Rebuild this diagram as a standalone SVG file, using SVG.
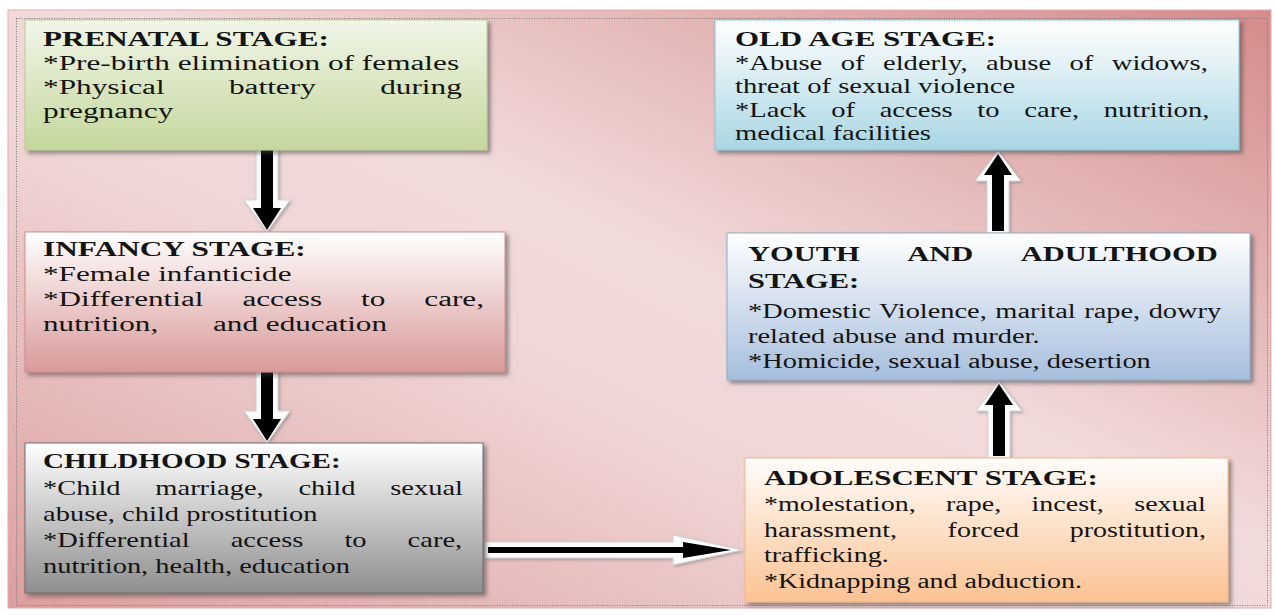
<svg xmlns="http://www.w3.org/2000/svg" width="1275" height="615" viewBox="0 0 1275 615">
<defs>
<linearGradient id="bg" x1="1" y1="0" x2="0" y2="1">
<stop offset="0" stop-color="#d48b8b"/>
<stop offset="0.45" stop-color="#f2dbdb"/>
<stop offset="0.6" stop-color="#f0d5d5"/>
<stop offset="1" stop-color="#dc9e9e"/>
</linearGradient>
<linearGradient id="gPre" x1="0" y1="0" x2="0" y2="1"><stop offset="0" stop-color="#f1f6e9"/><stop offset="1" stop-color="#c4d79c"/></linearGradient>
<linearGradient id="gInf" x1="0" y1="0" x2="0" y2="1"><stop offset="0" stop-color="#ffffff"/><stop offset="1" stop-color="#d99a99"/></linearGradient>
<linearGradient id="gChi" x1="0" y1="0" x2="0" y2="1"><stop offset="0" stop-color="#ffffff"/><stop offset="1" stop-color="#8e8e8e"/></linearGradient>
<linearGradient id="gAdo" x1="0" y1="0" x2="0" y2="1"><stop offset="0" stop-color="#fffdfb"/><stop offset="1" stop-color="#fbc293"/></linearGradient>
<linearGradient id="gYou" x1="0" y1="0" x2="0" y2="1"><stop offset="0" stop-color="#ffffff"/><stop offset="1" stop-color="#a6bedd"/></linearGradient>
<linearGradient id="gOld" x1="0" y1="0" x2="0" y2="1"><stop offset="0" stop-color="#ffffff"/><stop offset="1" stop-color="#a8d6e3"/></linearGradient>
<filter id="sh" x="-5%" y="-5%" width="115%" height="120%"><feDropShadow dx="3" dy="3" stdDeviation="2" flood-color="#404040" flood-opacity="0.55"/></filter>
<filter id="ash" x="-30%" y="-30%" width="160%" height="160%"><feDropShadow dx="1.5" dy="1.5" stdDeviation="1.5" flood-color="#808080" flood-opacity="0.6"/></filter>
</defs>
<style>
.t{font-family:"Liberation Serif","Times New Roman",serif;font-size:20px;fill:#141414}
.b{font-weight:bold}
.box{filter:url(#sh);stroke-width:1}
.wa{fill:#fbfbfb;stroke:#d4d4d4;stroke-width:1;filter:url(#ash)}
.ba{fill:#000}
</style>
<rect x="8" y="10" width="1263" height="598" fill="url(#bg)" stroke="#e3abab" stroke-width="1"/>
<rect x="16.5" y="18.5" width="1251" height="587" fill="none" stroke="#7a7a7a" stroke-width="1" stroke-dasharray="1 1.5"/>

<g id="connectors">
<polygon class="wa" points="256,150 278,150 278,200 290,200 267,232 244,200 256,200"/>
<polygon class="ba" points="261,150 273,150 273,208 281,208 267,230 253,208 261,208"/>
<polygon class="wa" points="256,372 278,372 278,411 290,411 267,443 244,411 256,411"/>
<polygon class="ba" points="261,372 273,372 273,419 281,419 267,441 253,419 261,419"/>
<polygon class="wa" points="485,542 673,542 673,535 742,550 673,565 673,558 485,558"/>
<polygon class="ba" points="488,547 683,547 683,542 731,550 683,558 683,553 488,553"/>
<polygon class="wa" points="988,458 1010,458 1010,411 1022,411 999,381 976,411 988,411"/>
<polygon class="ba" points="993,456 1005,456 1005,405 1013,405 999,384 985,405 993,405"/>
<polygon class="wa" points="987,233 1009,233 1009,181 1021,181 998,151 975,181 987,181"/>
<polygon class="ba" points="992,231 1004,231 1004,175 1012,175 998,154 984,175 992,175"/>
</g>

<g id="prenatal">
<rect class="box" x="25" y="20" width="462" height="130" fill="url(#gPre)" stroke="#b9cc98"/>
<text class="t b" transform="translate(43 46) scale(1.555 1)">PRENATAL STAGE:</text>
<text class="t" transform="translate(43 70) scale(1.565 1)">*Pre-birth elimination of females</text>
<text class="t" transform="translate(43 94) scale(1.565 1)" word-spacing="36.1">*Physical battery during</text>
<text class="t" transform="translate(43 118) scale(1.565 1)">pregnancy</text>
</g>

<g id="infancy">
<rect class="box" x="25" y="232" width="480" height="140" fill="url(#gInf)" stroke="#d08c8b"/>
<text class="t b" transform="translate(43 256) scale(1.565 1)">INFANCY STAGE:</text>
<text class="t" transform="translate(43 281) scale(1.56 1)">*Female infanticide</text>
<text class="t" transform="translate(43 306) scale(1.56 1)" word-spacing="20">*Differential access to care,</text>
<text class="t" transform="translate(43 331) scale(1.56 1)">nutrition,<tspan x="109">and education</tspan></text>
</g>

<g id="childhood">
<rect class="box" x="25" y="443" width="458" height="150" fill="url(#gChi)" stroke="#6f6f6f"/>
<text class="t b" transform="translate(43 468) scale(1.455 1)">CHILDHOOD STAGE:</text>
<text class="t" transform="translate(43 495) scale(1.425 1)" word-spacing="19.4">*Child marriage, child sexual</text>
<text class="t" transform="translate(43 521) scale(1.425 1)">abuse, child prostitution</text>
<text class="t" transform="translate(43 547) scale(1.425 1)" word-spacing="23.8">*Differential access to care,</text>
<text class="t" transform="translate(43 573) scale(1.425 1)">nutrition, health, education</text>
</g>

<g id="adolescent">
<rect class="box" x="745" y="458" width="483" height="144" fill="url(#gAdo)" stroke="#f5b98c"/>
<text class="t b" transform="translate(764 485) scale(1.55 1)">ADOLESCENT STAGE:</text>
<text class="t" transform="translate(764 511) scale(1.4 1)" word-spacing="16.7">*molestation, rape, incest, sexual</text>
<text class="t" transform="translate(764 537) scale(1.4 1)" word-spacing="31.2">harassment, forced prostitution,</text>
<text class="t" transform="translate(764 562) scale(1.4 1)">trafficking.</text>
<text class="t" transform="translate(764 588) scale(1.4 1)">*Kidnapping and abduction.</text>
</g>

<g id="youth">
<rect class="box" x="727" y="233" width="523" height="147" fill="url(#gYou)" stroke="#8eaad0"/>
<text class="t b" transform="translate(748 261) scale(1.525 1)" word-spacing="27.2">YOUTH AND ADULTHOOD</text>
<text class="t b" transform="translate(748 288) scale(1.525 1)">STAGE:</text>
<text class="t" transform="translate(748 318) scale(1.42 1)" word-spacing="1">*Domestic Violence, marital rape, dowry</text>
<text class="t" transform="translate(748 343) scale(1.42 1)">related abuse and murder.</text>
<text class="t" transform="translate(748 368) scale(1.42 1)">*Homicide, sexual abuse, desertion</text>
</g>

<g id="oldage">
<rect class="box" x="715" y="20" width="524" height="130" fill="url(#gOld)" stroke="#8cc4d6"/>
<text class="t b" transform="translate(735 46) scale(1.55 1)">OLD AGE STAGE:</text>
<text class="t" transform="translate(735 70) scale(1.43 1)" word-spacing="7.9">*Abuse of elderly, abuse of widows,</text>
<text class="t" transform="translate(735 93) scale(1.43 1)">threat of sexual violence</text>
<text class="t" transform="translate(735 117) scale(1.43 1)" word-spacing="12.3">*Lack of access to care, nutrition,</text>
<text class="t" transform="translate(735 140) scale(1.43 1)">medical facilities</text>
</g>
</svg>
